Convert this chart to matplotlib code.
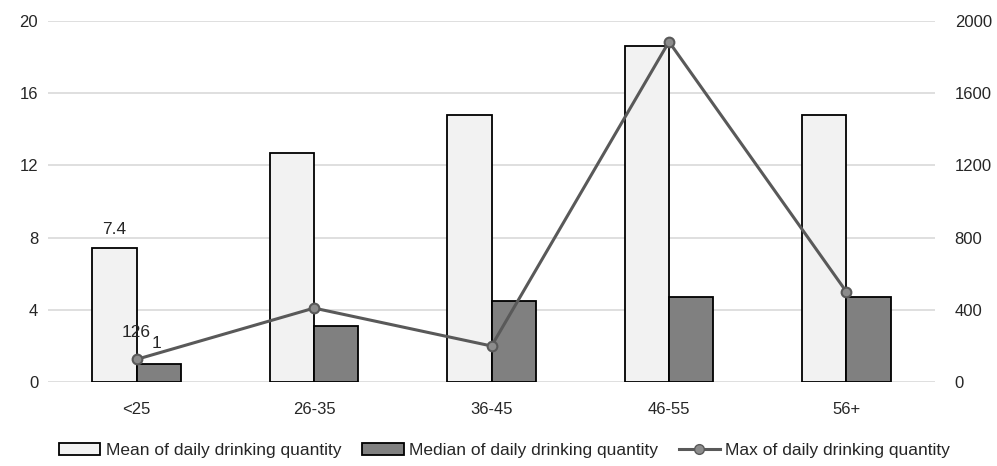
import numpy as np
import matplotlib.pyplot as plt
from matplotlib.lines import Line2D
from matplotlib.patches import Patch

plt.rcParams['font.family'] = ['Liberation Sans', 'DejaVu Sans']

# Data

age_groups = ["<25", "26-35", "36-45", "46-55", "56+"]
mean_qty = [7.4, 12.7, 14.8, 18.6, 14.8]
median_qty = [1, 3.1, 4.5, 4.7, 4.7]
max_qty = [126, 410, 200, 1885, 500]

left_ticks = [0, 4, 8, 12, 16, 20]
right_ticks = [0, 400, 800, 1200, 1600, 2000]

# Figure

fig = plt.figure(figsize=(9.97, 4.66), dpi=100, facecolor="white")
ax = fig.add_axes([0.048, 0.180, 0.890, 0.775])
ax2 = ax.twinx()

x = np.arange(len(age_groups))
width = 0.25

ax.bar(x - width / 2, mean_qty, width, color="#f2f2f2", edgecolor="black",
       linewidth=1.3, zorder=2)
ax.bar(x + width / 2, median_qty, width, color="#808080", edgecolor="black",
       linewidth=1.3, zorder=2)

ax2.plot(x, max_qty, color="#595959", linewidth=2.2, marker="o", markersize=7,
         markerfacecolor="#8c8c8c", markeredgecolor="#595959", markeredgewidth=1.5,
         zorder=3)

# data labels on the first group only
ax.text(x[0] - width / 2, mean_qty[0] + 0.65, "7.4", ha="center", va="bottom",
        fontsize=12.5, color="#262626")
ax.text(x[0] + width / 2 - 0.01, median_qty[0] + 0.75, "1", ha="center", va="bottom",
        fontsize=12.5, color="#262626")
ax2.text(x[0], max_qty[0] + 105, "126", ha="center", va="bottom",
         fontsize=12.5, color="#262626")

# Axes formatting

ax.set_xlim(-0.5, len(age_groups) - 0.5)
ax.set_ylim(0, 20)
ax2.set_ylim(0, 2000)
ax.set_yticks(left_ticks)
ax2.set_yticks(right_ticks)
ax.set_xticks(x)
ax.set_xticklabels(age_groups)

ax.grid(axis="y", color="#d9d9d9", linewidth=1.2, zorder=0)
ax.set_axisbelow(True)

for a in (ax, ax2):
    for spine in a.spines.values():
        spine.set_visible(False)
    a.tick_params(length=0, labelsize=12, colors="#262626")
ax.tick_params(axis="x", pad=14)
ax.tick_params(axis="y", pad=7)
ax2.tick_params(axis="y", pad=14)
ax.set_zorder(ax2.get_zorder() - 1)
ax.patch.set_visible(False)

# Legend

handles = [
    Patch(facecolor="#f2f2f2", edgecolor="black", linewidth=1.3,
          label="Mean of daily drinking quantity"),
    Patch(facecolor="#808080", edgecolor="black", linewidth=1.3,
          label="Median of daily drinking quantity"),
    Line2D([], [], color="#595959", linewidth=2.2, marker="o", markersize=7,
           markerfacecolor="#8c8c8c", markeredgecolor="#595959",
           label="Max of daily drinking quantity"),
]
fig.legend(handles=handles, loc="center", bbox_to_anchor=(0.506, 0.034), ncol=3,
           frameon=False, fontsize=12.5, handlelength=2.4, handleheight=0.7,
           handletextpad=0.3, columnspacing=1.2, labelcolor="#262626")

fig.savefig("out.png", dpi=100)
